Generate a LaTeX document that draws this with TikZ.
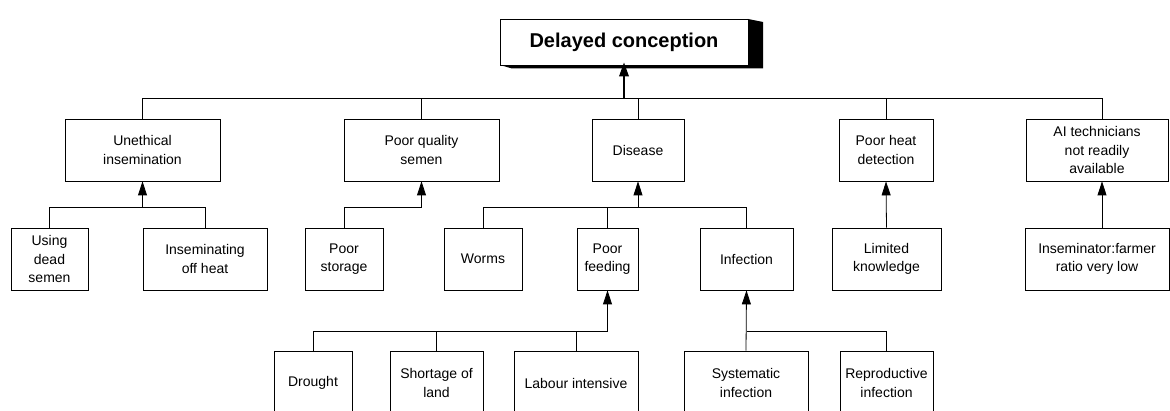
\documentclass[tikz,border=0pt]{standalone}
\usepackage{fontspec}
\setmainfont{Liberation Sans}
\usetikzlibrary{arrows.meta}
\tikzset{
  box/.style={draw=black, line width=0.8pt, fill=white, inner sep=0pt, align=center,
    font=\fontsize{14}{18.5}\selectfont},
  conn/.style={draw=black, line width=0.8pt},
  arr/.style={conn, -{Triangle[length=14pt,width=9pt]}},
  mainarr/.style={draw=black, line width=1.8pt, -{Triangle[length=14pt,width=9.5pt]}}
}
\begin{document}
\begin{tikzpicture}[x=1pt,y=-1pt]
\useasboundingbox (0,0) rectangle (1170,411);
\clip (0,0) rectangle (1170,411);
% title with 3D shadow
\fill[black] (500,65) -- (512,68.5) -- (763,68.5) -- (763,22) -- (748,19) -- cycle;
\node[box, minimum width=248pt, minimum height=46pt, font=\fontsize{20}{24}\selectfont\bfseries] (top) at (624,42) {Delayed conception};
% row 2
\node[box, minimum width=155pt, minimum height=62pt] (unethical) at (142.5,150) {Unethical\\insemination};
\node[box, minimum width=155pt, minimum height=62pt] (poorq) at (421.5,150) {Poor quality\\semen};
\node[box, minimum width=92pt, minimum height=62pt] (disease) at (638,150) {Disease};
\node[box, minimum width=94pt, minimum height=62pt] (heat) at (886,150) {Poor heat\\detection};
\node[box, minimum width=142pt, minimum height=62pt] (ai) at (1097,150) {AI technicians\\not readily\\available};
% row 3
\node[box, minimum width=77pt, minimum height=62pt] (using) at (49.5,259) {Using\\dead\\semen};
\node[box, minimum width=124pt, minimum height=62pt] (insem) at (205,259) {Inseminating\\off heat};
\node[box, minimum width=78pt, minimum height=62pt] (storage) at (344,259) {Poor\\storage};
\node[box, minimum width=78pt, minimum height=62pt] (worms) at (483,259) {Worms};
\node[box, minimum width=61pt, minimum height=62pt] (feeding) at (607.5,259) {Poor\\feeding};
\node[box, minimum width=93pt, minimum height=62pt] (infection) at (746.5,259) {Infection};
\node[box, minimum width=109pt, minimum height=62pt] (limited) at (886.5,259) {Limited\\knowledge};
\node[box, minimum width=144pt, minimum height=62pt] (ratio) at (1097,259) {Inseminator:farmer\\ratio very low};
% row 4
\node[box, minimum width=78pt, minimum height=64pt] (drought) at (313,383) {Drought};
\node[box, minimum width=93pt, minimum height=64pt] (shortage) at (436.5,383) {Shortage of\\land};
\node[box, minimum width=124pt, minimum height=64pt] (labour) at (576,383) {Labour intensive};
\node[box, minimum width=124pt, minimum height=64pt] (system) at (746,383) {Systematic\\infection};
\node[box, minimum width=93pt, minimum height=64pt] (repro) at (886.5,383) {Reproductive\\infection};
% bus coordinates
\coordinate (b0) at (624,98);
\coordinate (b1) at (142.5,207);
\coordinate (b2) at (421.5,207);
\coordinate (b3) at (638,207);
\coordinate (b4) at (607.5,331);
\coordinate (b5) at (746.5,331);
% top level
\draw[conn] (unethical.north) |- (b0);
\draw[conn] (poorq.north) |- (b0);
\draw[conn] (disease.north) |- (b0);
\draw[conn] (heat.north) |- (b0);
\draw[conn] ([xshift=5pt]ai.north) |- (b0);
\draw[mainarr] (b0) -- ([yshift=3pt]top.south);
% unethical
\draw[conn] (using.north) |- (b1);
\draw[conn] (insem.north) |- (b1);
\draw[arr] (b1) -- (unethical.south);
% poor quality
\draw[conn] (storage.north) |- (b2);
\draw[arr] (b2) -- (poorq.south);
% disease
\draw[conn] (worms.north) |- (b3);
\draw[conn] (feeding.north) |- (b3);
\draw[conn] (infection.north) |- (b3);
\draw[arr] (b3) -- (disease.south);
% heat
\draw[arr] (limited.north) -- (heat.south);
% ai
\draw[arr] ([xshift=5pt]ratio.north) -- ([xshift=5pt]ai.south);
% feeding
\draw[conn] (drought.north) |- (b4);
\draw[conn] (shortage.north) |- (b4);
\draw[conn] (labour.north) |- (b4);
\draw[arr] (b4) -- (feeding.south);
% infection
\draw[conn] (repro.north) |- (b5);
\draw[arr] (system.north) -- (infection.south);
\end{tikzpicture}
\end{document}
